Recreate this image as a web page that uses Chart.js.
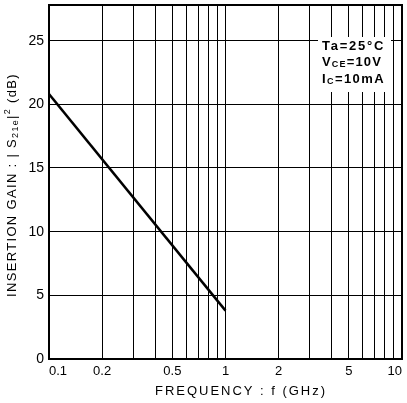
<!DOCTYPE html>
<html><head><meta charset="utf-8">
<script src="https://cdn.jsdelivr.net/npm/chart.js@4/dist/chart.umd.min.js"></script>
<style>html,body{margin:0;padding:0;background:#fff}#wrap{width:407px;height:403px}</style>
</head><body><div id="wrap"><canvas id="c" width="407" height="403"></canvas></div>
<script>
const freqGHz = [0.1, 1];
const gainDB = [20.8, 3.8];
const xGridValues = [0.1,0.2,0.3,0.4,0.5,0.6,0.7,0.8,0.9,1,2,3,4,5,6,7,8,9,10];
const xLabelValues = [0.1,0.2,0.5,1,2,5,10];
const yTickValues = [0,5,10,15,20,25];
const xTitleParts = [["FREQUENCY : f (GHz)",""]];
const yTitleParts = [["INSERTION GAIN : | S",""],["21e","sub"],["|",""],["2","sup"],[" (dB)",""]];
const conditionLines = [
  [["Ta=25°C",""]],
  [["V",""],["CE","sub"],["=10V",""]],
  [["I",""],["C","sub"],["=10mA",""]]
];

const FONT = '"Liberation Sans", Arial, sans-serif';

function drawParts(ctx, parts, size, x0, cy, target, bold, centered) {
  const w = bold ? 'bold ' : '';
  const fontFor = k => w + (k ? Math.round(size * 0.72) : size) + 'px ' + FONT;
  const dyFor = k => k === 'sub' ? size * 0.2 : (k === 'sup' ? -size * 0.35 : 0);
  ctx.letterSpacing = '0px';
  let base = 0, n = 0;
  parts.forEach(([t, k]) => { ctx.font = fontFor(k); base += ctx.measureText(t).width; n += [...t].length; });
  const sp = Math.max(0, (target - base) / n);
  ctx.letterSpacing = sp + 'px';
  let total = 0;
  parts.forEach(([t, k]) => { ctx.font = fontFor(k); total += ctx.measureText(t).width; });
  let x = centered ? x0 - total / 2 : x0;
  ctx.textAlign = 'left';
  ctx.textBaseline = 'middle';
  parts.forEach(([t, k]) => {
    ctx.font = fontFor(k);
    ctx.fillText(t, x, cy + dyFor(k));
    x += ctx.measureText(t).width;
  });
  ctx.letterSpacing = '0px';
}

const decor = {
  id: 'decor',
  afterDraw(chart) {
    const {ctx, chartArea: a} = chart;
    ctx.save();
    ctx.strokeStyle = '#000';
    ctx.lineWidth = 2;
    ctx.strokeRect(a.left, a.top, a.right - a.left, a.bottom - a.top);
    // conditions box
    ctx.fillStyle = '#fff';
    ctx.fillRect(318, 37, 73, 55);
    ctx.fillStyle = '#000';
    const ys = [46, 62, 79];
    const widths = [63, 60, 63];
    conditionLines.forEach((parts, i) => drawParts(ctx, parts, 13, 322, ys[i], widths[i], true, false));
    // axis titles
    drawParts(ctx, xTitleParts, 13, 241, 391, 172, false, true);
    ctx.translate(12.5, 185);
    ctx.rotate(-Math.PI / 2);
    drawParts(ctx, yTitleParts, 13, 0, 0, 224, false, true);
    ctx.restore();
  }
};

new Chart(document.getElementById('c'), {
  type: 'line',
  data: {
    datasets: [{
      data: freqGHz.map((f, i) => ({x: f, y: gainDB[i]})),
      borderColor: '#000',
      borderWidth: 2.5,
      pointRadius: 0,
      fill: false,
      tension: 0
    }]
  },
  options: {
    responsive: false,
    animation: false,
    layout: {padding: {top: 5, right: 5, left: 0, bottom: 0}},
    plugins: {legend: {display: false}, tooltip: {enabled: false}},
    scales: {
      x: {
        type: 'logarithmic',
        min: 0.1, max: 10,
        afterBuildTicks: s => { s.ticks = xGridValues.map(v => ({value: v})); },
        afterFit: s => { s.height = 44; s.paddingLeft = 0; s.paddingRight = 0; },
        ticks: {
          autoSkip: false, maxRotation: 0, padding: 5, align: 'inner',
          color: '#000', font: {family: FONT, size: 13},
          callback: v => xLabelValues.includes(+v.toFixed(2)) ? String(+v.toFixed(2)) : ''
        },
        grid: {color: '#000', lineWidth: 1, drawTicks: false},
        border: {display: false}
      },
      y: {
        min: 0, max: 27.8,
        afterBuildTicks: s => { s.ticks = yTickValues.map(v => ({value: v})); },
        afterFit: s => { s.width = 49; s.paddingTop = 0; s.paddingBottom = 0; },
        ticks: {padding: 5, color: '#000', font: {family: FONT, size: 14}},
        grid: {color: '#000', lineWidth: 1, drawTicks: false},
        border: {display: false}
      }
    }
  },
  plugins: [decor]
});
</script></body></html>
